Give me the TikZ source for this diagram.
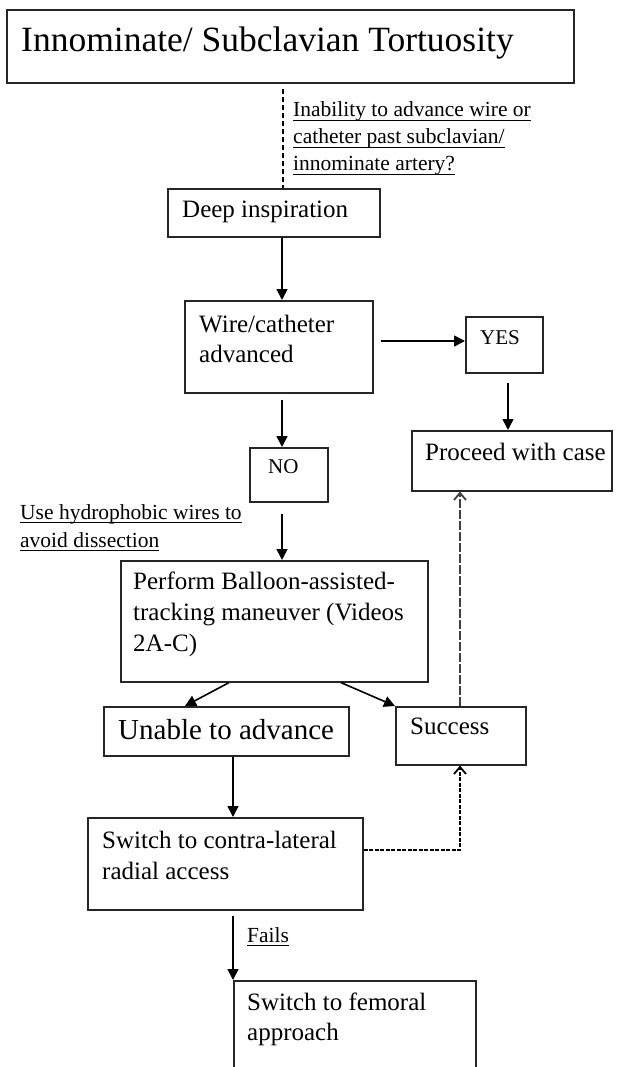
\documentclass[tikz,border=0pt]{standalone}
\usepackage{fontspec}
\setmainfont{Liberation Serif}
\usetikzlibrary{arrows.meta}
\newcommand{\myul}[1]{\setbox0\hbox{#1}\rlap{\rule[-4pt]{\wd0}{1.3pt}}\box0}
\begin{document}
\begin{tikzpicture}[x=1pt,y=-1pt,
  box/.style={draw=black!85, line width=1.6pt, inner sep=0pt, anchor=north west},
  txt/.style={anchor=base west, inner sep=0pt, font=\fontsize{25}{30}\selectfont},
  smalltxt/.style={anchor=base west, inner sep=0pt, font=\fontsize{21}{26}\selectfont},
  lbl/.style={anchor=base west, inner sep=0pt, font=\fontsize{21.5}{27}\selectfont},
  arr/.style={line width=1.6pt, -{Triangle[length=11pt,width=11pt]}},
  dshtop/.style={line width=1.3pt, dash pattern=on 5pt off 3pt},
  dshgray/.style={line width=1.4pt, draw=black!75, dash pattern=on 9pt off 2pt, -{Straight Barb[length=7pt,width=12pt,line width=1.8pt]}},
  dshblack/.style={line width=1.8pt, dash pattern=on 4pt off 1.5pt, -{Straight Barb[length=7pt,width=12pt,line width=1.8pt]}}
]
\useasboundingbox (0,0) rectangle (616,1067);
\clip (0,0) rectangle (616,1067);
\fill[white] (0,0) rectangle (616,1067);

% boxes
\node[box, minimum width=567pt, minimum height=73pt] (title) at (6,9) {};
\node[anchor=base west, inner sep=0pt, font=\fontsize{35.5}{40}\selectfont] (titlet) at (21,52) {Innominate/ Subclavian Tortuosity};

\node[box, minimum width=212pt, minimum height=48pt] (deep) at (167,188) {};
\node[txt] (deept) at (182,218) {Deep inspiration};

\node[box, minimum width=188pt, minimum height=92pt] (wire) at (184,300) {};
\node[txt] (wiret1) at (199,332) {Wire/catheter};
\node[txt] (wiret2) at (199,362) {advanced};

\node[box, minimum width=77pt, minimum height=56pt] (yes) at (465,316) {};
\node[smalltxt] (yest) at (480,344) {YES};

\node[box, minimum width=200pt, minimum height=60pt] (proceed) at (411,430) {};
\node[txt] (proceedt) at (425,460) {Proceed with case};

\node[box, minimum width=78pt, minimum height=54pt] (no) at (249,447) {};
\node[smalltxt] (not) at (268,473) {NO};

\node[box, minimum width=307pt, minimum height=121pt] (perform) at (120,560) {};
\node[txt] (performt1) at (133,589) {Perform Balloon-assisted-};
\node[txt] (performt2) at (133,620) {tracking maneuver (Videos};
\node[txt] (performt3) at (133,651) {2A-C)};

\node[box, minimum width=245pt, minimum height=49pt] (unable) at (103,706) {};
\node[anchor=base west, inner sep=0pt, font=\fontsize{29}{34}\selectfont] (unablet) at (118,739) {Unable to advance};

\node[box, minimum width=130pt, minimum height=58pt] (success) at (395,706) {};
\node[txt] (successt) at (410,734) {Success};

\node[box, minimum width=275pt, minimum height=92pt] (switch) at (87,817) {};
\node[txt] (switcht1) at (102,848) {Switch to contra-lateral};
\node[txt] (switcht2) at (102,879) {radial access};

\node[box, minimum width=242pt, minimum height=110pt] (fem) at (233,980) {};
\node[txt] (femt1) at (247,1010) {Switch to femoral};
\node[txt] (femt2) at (247,1040) {approach};

% labels
\node[lbl] (l1) at (293,117) {\myul{Inability to advance wire or}};
\node[lbl] (l2) at (293,144) {\myul{catheter past subclavian/}};
\node[lbl] (l3) at (293,171) {\myul{innominate artery?}};
\node[lbl] (l4) at (20,519) {\myul{Use hydrophobic wires to}};
\node[lbl] (l5) at (20,547) {\myul{avoid dissection}};
\node[lbl] (l6) at (247,942) {\myul{Fails}};

% helper coordinates
\coordinate (dstart) at (283,89);
\coordinate (x282) at (282,0);
\coordinate (x508) at (508,0);
\coordinate (x460) at (460,0);
\coordinate (x233) at (233,0);
\coordinate (y341) at (0,341);
\coordinate (y850) at (0,850);

% connectors
\draw[dshtop] (dstart) -- (deep.north -| dstart);
\draw[arr] (deep.south -| x282) -- (wire.north -| x282);
\draw[arr, shorten <=7pt] (wire.east |- y341) -- (yes.west |- y341);
\draw[arr, shorten <=9pt] (yes.south -| x508) -- (proceed.north -| x508);
\draw[arr, shorten <=6pt] (wire.south -| x282) -- (no.north -| x282);
\draw[arr, shorten <=11pt] (no.south -| x282) -- (perform.north -| x282);
\draw[arr] ([xshift=109pt]perform.south west) -- ([xshift=82pt]unable.north west);
\draw[arr] ([xshift=221pt]perform.south west) -- (success.north west);
\draw[dshgray] (success.north -| x460) -- (proceed.south -| x460);
\draw[arr] (unable.south -| x233) -- (switch.north -| x233);
\draw[dshblack] (switch.east |- y850) -| (success.south -| x460);
\draw[arr, shorten <=5pt] (switch.south -| x233) -- (fem.north west);
\end{tikzpicture}
\end{document}
